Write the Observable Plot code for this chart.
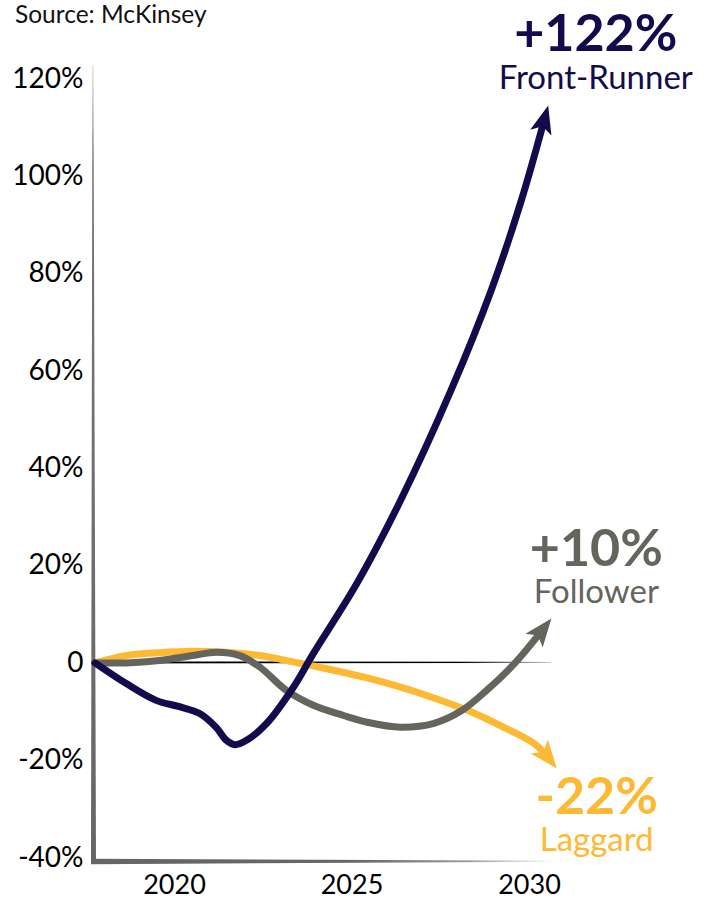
<!DOCTYPE html>
<html><head><meta charset="utf-8">
<script src="https://cdn.jsdelivr.net/npm/d3@7"></script>
<script src="https://cdn.jsdelivr.net/npm/@observablehq/plot@0.6"></script>
<style>
html,body{margin:0;padding:0;background:#fff;}
#wrap{position:relative;width:714px;height:898px;overflow:hidden;}
#wrap svg{position:absolute;left:0;top:0;}
#source{position:absolute;left:15px;top:-1px;font:24.5px Lato, sans-serif;color:#111;line-height:30px;z-index:2;}
</style></head><body>
<div id="wrap"><div id="source">Source: McKinsey</div></div>
<script>
// ---- data ----
const seriesNames = ["Front-Runner", "Follower", "Laggard"];
const finalChanges = ["+122%", "+10%", "-22%"];
const seriesColors = ["#130c4c", "#65655e", "#fdb933"];

const frontYears  = [2017.76, 2018.63, 2019.48, 2020.14, 2020.71, 2021.18, 2021.46, 2021.70, 2022.03, 2022.60, 2023.34, 2023.91, 2025.16, 2026.37, 2027.79, 2028.92, 2029.77, 2030.43];
const frontValues = [0, -4.2, -7.7, -9.0, -10.4, -13.3, -15.9, -16.8, -15.9, -12.4, -5.1, 1.9, 16.6, 33.4, 56.0, 76.5, 95.0, 111.9];

const followYears  = [2017.76, 2018.63, 2019.58, 2020.51, 2021.18, 2021.84, 2022.41, 2023.16, 2023.91, 2024.76, 2025.43, 2026.37, 2027.31, 2028.07, 2028.83, 2029.58, 2030.39];
const followValues = [0, 0, 0.5, 1.5, 2.2, 1.5, -0.9, -5.7, -8.7, -10.8, -12.2, -13.2, -12.4, -9.9, -5.4, -0.1, 7.0];

const lagYears  = [2017.76, 2018.63, 2019.58, 2020.51, 2021.46, 2022.41, 2023.34, 2024.29, 2025.43, 2026.37, 2027.31, 2028.27, 2029.21, 2030.14, 2030.54];
const lagValues = [0, 1.5, 2.1, 2.4, 2.2, 1.5, 0.2, -1.2, -3.1, -5.0, -7.2, -9.8, -13.0, -16.6, -19.6];

const yTicks = [-40, -20, 0, 20, 40, 60, 80, 100, 120];
const xTicks = [2020, 2025, 2030];

// ---- build ----
const toRows = (xs, vs) => xs.map((x, i) => ({x, y: vs[i]}));
const front = toRows(frontYears, frontValues);
const follow = toRows(followYears, followValues);
const lag = toRows(lagYears, lagValues);
const ends = [front, follow, lag].map(s => s[s.length - 1]);

const xDomain = [2017.662, 2031];
const yDomain = [-41, 122.7];
const navy = seriesColors[0], gray = seriesColors[1], yellow = seriesColors[2];

const labelOffsets = [
  {dx: 51, dyBig: -84, dySmall: -40},
  {dx: 53, dyBig: -79, dySmall: -36.5},
  {dx: 48, dyBig: 39, dySmall: 82}
];

const textMarks = [];
ends.forEach((e, i) => {
  textMarks.push(Plot.text([e], {x: "x", y: "y", text: () => finalChanges[i], dx: labelOffsets[i].dx, dy: labelOffsets[i].dyBig,
    fontSize: 52, fontWeight: 700, fill: seriesColors[i], textAnchor: "middle"}));
  textMarks.push(Plot.text([e], {x: "x", y: "y", text: () => seriesNames[i], dx: labelOffsets[i].dx, dy: labelOffsets[i].dySmall,
    fontSize: 33, fontWeight: 400, fill: seriesColors[i], textAnchor: "middle"}));
});

const chart = Plot.plot({
  width: 714, height: 898,
  marginLeft: 91, marginRight: 149.5, marginTop: 65, marginBottom: 36,
  style: {fontFamily: "Lato, sans-serif", fontSize: "27px", color: "#000", background: "#fff", overflow: "visible"},
  x: {domain: xDomain, label: null},
  y: {domain: yDomain, label: null},
  marks: [
    Plot.axisX({ticks: xTicks, tickSize: 0, tickPadding: 12, tickFormat: d => String(d), fontSize: 27, fill: "#000", label: null}),
    Plot.axisY({ticks: yTicks, tickSize: 0, tickPadding: 8, tickFormat: d => d === 0 ? "0" : d + "%", fontSize: 28, fill: "#000", label: null}),
    Plot.line(lag, {x: "x", y: "y", stroke: yellow, strokeWidth: 7, curve: "catmull-rom"}),
    Plot.line(follow, {x: "x", y: "y", stroke: gray, strokeWidth: 7, curve: "catmull-rom"}),
    Plot.line(front, {x: "x", y: "y", stroke: navy, strokeWidth: 7, curve: "catmull-rom"}),
    ...textMarks
  ]
});
document.getElementById("wrap").appendChild(chart);

// ---- decorations through the plot's own scales ----
const svg = d3.select(chart);
const xs = chart.scale("x"), ys = chart.scale("y");
const defs = svg.append("defs");

const vg = defs.append("linearGradient").attr("id", "yAxisGrad").attr("x1", 0).attr("y1", 0).attr("x2", 0).attr("y2", 1);
vg.append("stop").attr("offset", 0).attr("stop-color", "#d4d4d4");
vg.append("stop").attr("offset", 0.12).attr("stop-color", "#777");
vg.append("stop").attr("offset", 1).attr("stop-color", "#666");

const hg = defs.append("linearGradient").attr("id", "xAxisGrad").attr("x1", 0).attr("y1", 0).attr("x2", 1).attr("y2", 0);
hg.append("stop").attr("offset", 0).attr("stop-color", "#666");
hg.append("stop").attr("offset", 0.55).attr("stop-color", "#666");
hg.append("stop").attr("offset", 0.8).attr("stop-color", "#9a9a9a");
hg.append("stop").attr("offset", 1).attr("stop-color", "#fff");

const zg = defs.append("linearGradient").attr("id", "zeroGrad").attr("x1", 0).attr("y1", 0).attr("x2", 1).attr("y2", 0);
zg.append("stop").attr("offset", 0).attr("stop-color", "#000");
zg.append("stop").attr("offset", 0.8).attr("stop-color", "#000");
zg.append("stop").attr("offset", 1).attr("stop-color", "#c8c8c8");

seriesColors.forEach((c, i) => {
  defs.append("marker").attr("id", "arrow" + i)
    .attr("viewBox", "-18 -13 33 26").attr("markerWidth", 33).attr("markerHeight", 26)
    .attr("markerUnits", "userSpaceOnUse").attr("orient", "auto").attr("refX", 0).attr("refY", 0)
    .append("path").attr("d", "M13,0L-15,-11L-8.5,0L-15,11Z").attr("fill", c);
});

const x0 = xs.apply(xDomain[0]);
const yTop = ys.apply(yDomain[1]);
const yBot = ys.apply(yDomain[0]);
const xEnd = xs.apply(2030.85);
const zx0 = xs.apply(2017.76), zx1 = xs.apply(2030.6), zy = ys.apply(0);

const deco = svg.insert("g", 'g[aria-label="line"]');
deco.append("polygon").attr("fill", "url(#yAxisGrad)")
  .attr("points", [[x0 + 1.4, yTop], [x0 + 2.4, yTop], [x0 + 5, yBot + 2], [x0, yBot + 2]].map(p => p.join(",")).join(" "));
deco.append("polygon").attr("fill", "url(#xAxisGrad)")
  .attr("points", [[x0, yBot - 3.3], [xEnd, yBot - 1.2], [xEnd, yBot - 0.2], [x0, yBot + 2.2]].map(p => p.join(",")).join(" "));
deco.append("polygon").attr("fill", "url(#zeroGrad)")
  .attr("points", [[zx0, zy - 1], [zx1, zy - 0.5], [zx1, zy + 0.5], [zx0, zy + 1]].map(p => p.join(",")).join(" "));

const lineGroups = svg.selectAll('g[aria-label="line"]').nodes();
// order: laggard, follower, front-runner
const markerIdx = [2, 1, 0];
lineGroups.forEach((g, k) => {
  d3.select(g).selectAll("path").attr("marker-end", `url(#arrow${markerIdx[k]})`).attr("stroke-linejoin", "round");
});
</script>
</body></html>
